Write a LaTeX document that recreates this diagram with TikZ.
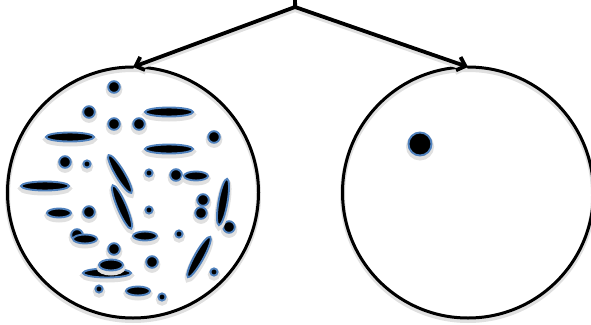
\documentclass[tikz,border=0pt]{standalone}
\usetikzlibrary{arrows.meta}
\definecolor{rim}{RGB}{79,129,189}

\begin{document}
\begin{tikzpicture}[
  x=1pt,y=-1pt,
  soft/.style={preaction={draw=black!12,line width=5pt,transform canvas={yshift=-2.5pt}}},
  disk/.style={circle,draw,line width=3pt,minimum size=251pt,inner sep=0pt,outer sep=0pt,soft},
  blob/.style={fill=black,draw=rim,line width=1.9pt,soft},
  link/.style={line width=3.8pt,soft},
  tip/.style={-{Straight Barb[length=7.5pt,width=14pt]}}
]
\useasboundingbox (0,0) rectangle (591,324);

\node[disk] (lc) at (133,192.5) {};
\node[disk] (rc) at (468,192.5) {};

\coordinate (top) at (295,0);
\coordinate (fork) at (295,7);
\draw[link] (top) -- (fork);
\draw[link,tip] (fork) -- (lc.north);
\draw[link,tip] (fork) -- (rc.north);

% many particles on the left
\foreach \x/\y in {114/87,89/112,114/124,139/124,214/137,65/162,176/175,203/200,201/213,229/227,89/212,77/235,114/249,152/262}
  \draw[blob] (\x,\y) circle [radius=5.8pt];
\foreach \x/\y in {87/164,149/173,149/210,179/234,214/272,99/289,162/297}
  \draw[blob] (\x,\y) circle [radius=3.6pt];
\foreach \x/\y/\rx/\ry/\a in {169/112/24/4.5/0,70/137/24/4.5/0,169/149/24/4.5/0,120/174/22/4.5/-59,
    196/176/12/4.5/0,45/186/24/4.5/0,122/207/23.5/4.5/-67,223/202/23.5/4.5/80,59/213/12/4.5/0,
    85/239/12/4.5/0,145/236/12/4.5/0,107/273/24/4.5/0,111/265/12/5.5/0,199/257/23/4.5/61,138/291/12/4.5/0}
  \draw[blob,rotate around={\a:(\x,\y)}] (\x,\y) ellipse [x radius=\rx pt,y radius=\ry pt];

% one particle on the right
\draw[blob] (420,144) circle [radius=11.5pt];
\end{tikzpicture}
\end{document}
